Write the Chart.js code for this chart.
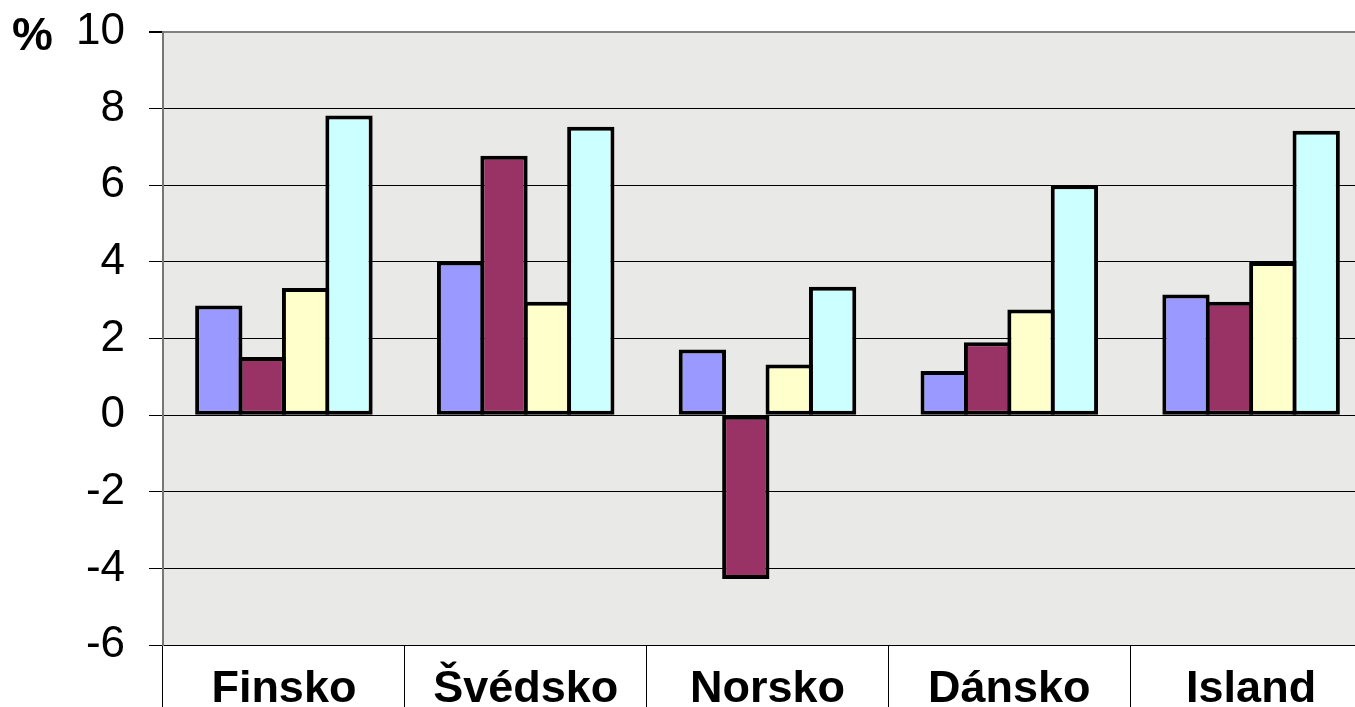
<!DOCTYPE html>
<html>
<head>
<meta charset="utf-8">
<script src="https://cdn.jsdelivr.net/npm/chart.js@4/dist/chart.umd.min.js"></script>
<style>
    html, body { margin: 0; padding: 0; background: #fff; overflow: hidden; }
    #wrap { width: 1372px; height: 707px; position: relative; }
</style>
</head>
<body>
<div id="wrap"><canvas id="barChart"></canvas></div>
<script>
// categories and the four series
const countries = ['Finsko', 'Švédsko', 'Norsko', 'Dánsko', 'Island'];
const series1 = [2.86, 4.01, 1.71, 1.15, 3.15];
const series2 = [1.52, 6.77, -4.28, 1.90, 2.96];
const series3 = [3.32, 2.96, 1.32, 2.76, 4.00];
const series4 = [7.82, 7.53, 3.35, 6.00, 7.42];
const seriesNames = ['Řada 1', 'Řada 2', 'Řada 3', 'Řada 4'];
const yTicks = [-6, -4, -2, 0, 2, 4, 6, 8, 10];

const colors = ['#9999FF', '#993366', '#FFFFCC', '#CCFFFF'];

// grey plot area + the "%" unit label
const plotArea = {
    id: 'plotArea',
    beforeDraw(chart) {
        const { ctx, chartArea: a } = chart;
        ctx.save();
        ctx.fillStyle = '#e9e9e7';
        ctx.fillRect(a.left, a.top, a.right - a.left, a.bottom - a.top);
        ctx.restore();
    },
    afterDraw(chart) {
        const ctx = chart.ctx;
        ctx.save();
        ctx.fillStyle = '#000';
        ctx.font = 'bold 46px "Liberation Sans", Arial, sans-serif';
        ctx.textBaseline = 'alphabetic';
        ctx.fillText('%', 12, 50);
        ctx.restore();
    }
};

const data = [series1, series2, series3, series4];

new Chart(document.getElementById('barChart'), {
    type: 'bar',
    data: {
        labels: countries,
        datasets: data.map((d, i) => ({
            label: seriesNames[i],
            data: d,
            backgroundColor: colors[i],
            borderColor: '#000',
            borderWidth: 4,
            borderSkipped: false
        }))
    },
    options: {
        responsive: true,
        maintainAspectRatio: false,
        animation: false,
        layout: { padding: { top: 32, left: 0, right: 0, bottom: 0 } },
        datasets: {
            // bars a bit wider than their slot so neighbours share one border
            bar: { barPercentage: 1.09, categoryPercentage: 0.718 }
        },
        scales: {
            x: {
                offset: true,
                afterFit(scale) {
                    scale.height = 62;
                    scale.paddingLeft = 0;
                    scale.paddingRight = 0;
                },
                grid: {
                    offset: true,
                    drawOnChartArea: false,
                    drawTicks: true,
                    tickLength: 62,
                    color: '#000',
                    lineWidth: 1
                },
                border: { color: '#000', width: 1 },
                ticks: {
                    color: '#000',
                    padding: -44,
                    font: { family: '"Liberation Sans", Arial, sans-serif', size: 45, weight: 'bold' }
                }
            },
            y: {
                min: -6,
                max: 10,
                afterFit(scale) {
                    scale.width = 163;
                    scale.paddingTop = 0;
                    scale.paddingBottom = 0;
                },
                afterBuildTicks(scale) { scale.ticks = yTicks.map(v => ({ value: v })); },
                grid: {
                    color: ctx => (ctx.tick && ctx.tick.value === 10) ? '#808080' : '#000',
                    lineWidth: ctx => (ctx.tick && ctx.tick.value === 10) ? 2 : 1,
                    tickLength: 14,
                    tickColor: '#000'
                },
                border: { color: '#777', width: 2 },
                ticks: {
                    color: '#000',
                    padding: 24,
                    font: { family: '"Liberation Sans", Arial, sans-serif', size: 44 }
                }
            }
        },
        plugins: {
            legend: { display: false },
            tooltip: { enabled: false }
        }
    },
    plugins: [plotArea]
});
</script>
</body>
</html>
